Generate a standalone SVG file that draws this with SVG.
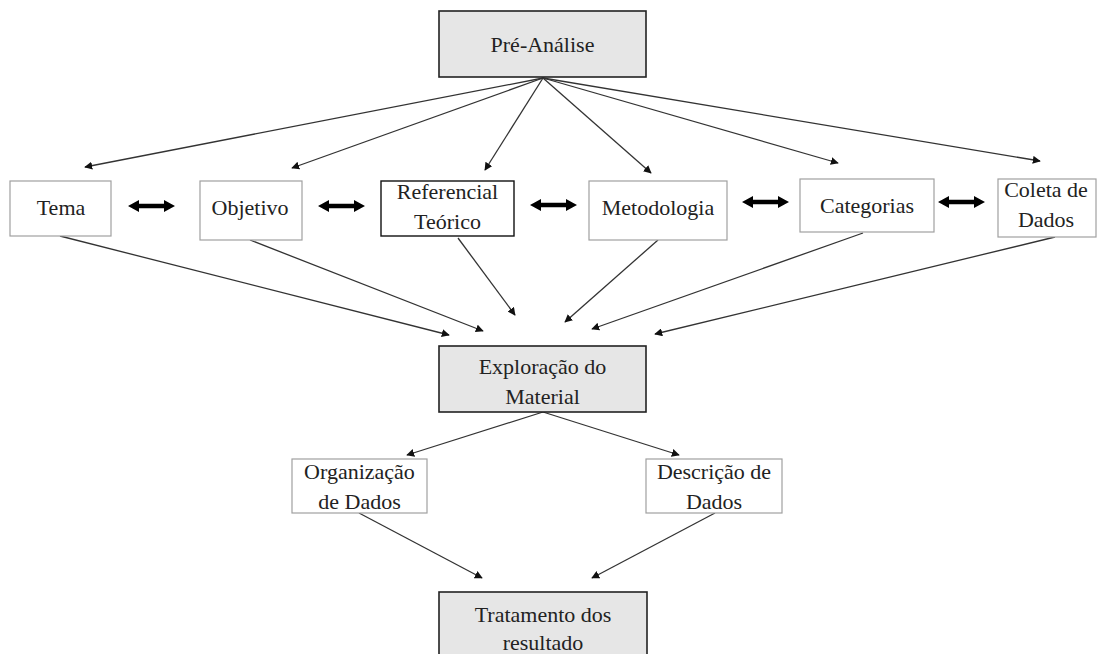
<svg xmlns="http://www.w3.org/2000/svg" width="1097" height="654" viewBox="0 0 1097 654">
  <style>
    .main { fill: #e6e6e6; stroke: #222; stroke-width: 1.6; }
    .plain { fill: #fff; stroke: #a0a0a0; stroke-width: 1.2; }
    .dark { fill: #fff; stroke: #111; stroke-width: 1.4; }
    text { font-family: "Liberation Serif", "Times New Roman", serif; font-size: 22px; fill: #222; text-anchor: middle; }
    .link { stroke: #333; stroke-width: 1.3; fill: none; marker-end: url(#tip); }
  </style>
  <defs>
    <marker id="tip" viewBox="0 0 10 10" refX="9" refY="5" markerWidth="8" markerHeight="8" markerUnits="userSpaceOnUse" orient="auto">
      <path d="M0,0 L10,5 L0,10 z" fill="#111"/>
    </marker>
    <!-- thick two-headed arrow between neighbouring topics -->
    <path id="dbl" d="M0,0 L11,-6 L11,-2.2 L36,-2.2 L36,-6 L47,0 L36,6 L36,2.2 L11,2.2 L11,6 z" fill="#000"/>
  </defs>

  <!-- connectors -->
  <g id="connectors">
    <line class="link" x1="543" y1="78" x2="85" y2="167"/>
    <line class="link" x1="543" y1="78" x2="292" y2="168"/>
    <line class="link" x1="543" y1="78" x2="485" y2="170"/>
    <line class="link" x1="543" y1="78" x2="651" y2="173"/>
    <line class="link" x1="543" y1="78" x2="838" y2="163"/>
    <line class="link" x1="543" y1="78" x2="1040" y2="161"/>

    <line class="link" x1="60" y1="236" x2="449" y2="335"/>
    <line class="link" x1="250" y1="240" x2="483" y2="331"/>
    <line class="link" x1="458" y1="238" x2="515" y2="315"/>
    <line class="link" x1="658" y1="240" x2="565" y2="322"/>
    <line class="link" x1="863" y1="233" x2="592" y2="329"/>
    <line class="link" x1="1055" y1="237" x2="655" y2="334"/>

    <line class="link" x1="543" y1="412" x2="407" y2="455"/>
    <line class="link" x1="543" y1="412" x2="679" y2="455"/>
    <line class="link" x1="359" y1="513" x2="482" y2="578"/>
    <line class="link" x1="715" y1="513" x2="592" y2="578"/>

    <use href="#dbl" x="128" y="206"/>
    <use href="#dbl" x="318" y="206"/>
    <use href="#dbl" x="530" y="205"/>
    <use href="#dbl" x="742" y="202"/>
    <use href="#dbl" x="938" y="202"/>
  </g>

  <g id="pre-analise">
    <rect class="main" x="439" y="11" width="207" height="66"/>
    <text x="542.5" y="52">Pré-Análise</text>
  </g>

  <g id="tema">
    <rect class="plain" x="10" y="181" width="101" height="55"/>
    <text x="61" y="215">Tema</text>
  </g>

  <g id="objetivo">
    <rect class="plain" x="200" y="181" width="102" height="59"/>
    <text x="250" y="215">Objetivo</text>
  </g>

  <g id="referencial">
    <rect class="dark" x="381" y="181" width="133" height="55"/>
    <text x="447.5" y="199">Referencial</text>
    <text x="447.5" y="229">Teórico</text>
  </g>

  <g id="metodologia">
    <rect class="plain" x="589" y="181" width="138" height="59"/>
    <text x="658" y="215">Metodologia</text>
  </g>

  <g id="categorias">
    <rect class="plain" x="800" y="179" width="134" height="53"/>
    <text x="867" y="213">Categorias</text>
  </g>

  <g id="coleta">
    <rect class="plain" x="998" y="179" width="98" height="58"/>
    <text x="1046" y="197">Coleta de</text>
    <text x="1046" y="227">Dados</text>
  </g>

  <g id="exploracao">
    <rect class="main" x="439" y="346" width="207" height="66"/>
    <text x="542.5" y="374">Exploração do</text>
    <text x="542.5" y="404">Material</text>
  </g>

  <g id="organizacao">
    <rect class="plain" x="292" y="459" width="135" height="54"/>
    <text x="359.5" y="479">Organização</text>
    <text x="359.5" y="509">de Dados</text>
  </g>

  <g id="descricao">
    <rect class="plain" x="646" y="459" width="136" height="54"/>
    <text x="714" y="479">Descrição de</text>
    <text x="714" y="509">Dados</text>
  </g>

  <g id="tratamento">
    <rect class="main" x="439" y="592" width="208" height="70"/>
    <text x="543" y="622">Tratamento dos</text>
    <text x="543" y="650">resultado</text>
  </g>
</svg>
